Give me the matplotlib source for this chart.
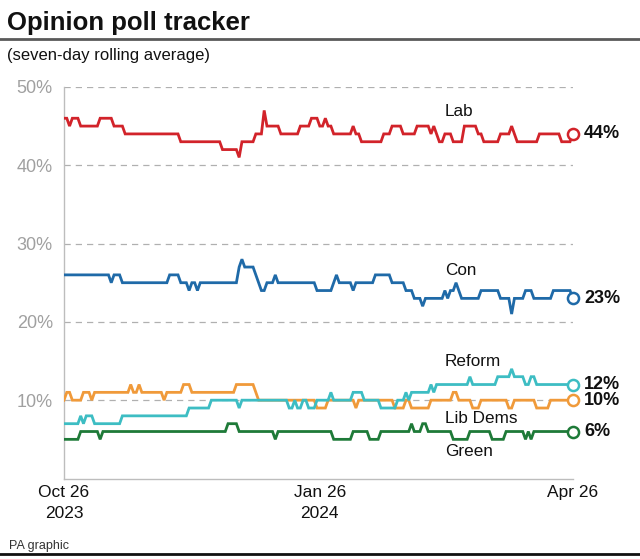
import matplotlib

matplotlib.use("Agg")
import matplotlib.pyplot as plt
import matplotlib.dates as mdates
import numpy as np
import pandas as pd

plt.rcParams["font.family"] = ["Liberation Sans", "DejaVu Sans"]

# daily seven-day rolling averages, stored as (value, number of days) runs
START = "2023-10-26"
lab_runs = [(46, 2), (45, 1), (46, 3), (45, 7), (46, 5), (45, 4), (44, 20), (43, 15),
            (42, 6), (41, 1), (43, 5), (44, 3), (47, 1), (45, 5), (44, 7), (45, 4),
            (46, 3), (45, 2), (46, 1), (45, 2), (44, 7), (45, 1), (44, 2), (43, 8),
            (44, 3), (45, 4), (44, 5), (45, 5), (44, 1), (45, 1), (44, 1), (43, 2),
            (44, 3), (43, 4), (45, 5), (44, 2), (43, 6), (44, 4), (45, 1), (44, 1),
            (43, 8), (44, 8), (43, 4), (44, 1)]
con_runs = [(26, 17), (25, 1), (26, 3), (25, 17), (26, 4), (25, 3), (24, 1), (25, 2),
            (24, 1), (25, 14), (27, 1), (28, 1), (27, 4), (26, 1), (25, 1), (24, 2),
            (25, 3), (26, 1), (25, 14), (24, 6), (25, 1), (26, 1), (25, 5), (24, 1),
            (25, 7), (26, 6), (25, 5), (24, 3), (23, 3), (22, 1), (23, 7), (24, 1),
            (23, 1), (24, 2), (25, 1), (24, 1), (23, 7), (24, 7), (23, 4), (21, 1),
            (23, 4), (24, 3), (23, 7), (24, 7), (23, 1)]
reform_runs = [(7, 6), (8, 1), (7, 1), (8, 3), (7, 10), (8, 24), (9, 8), (10, 10),
               (9, 1), (10, 17), (9, 2), (10, 1), (9, 2), (10, 2), (9, 3), (10, 5),
               (11, 1), (10, 7), (11, 4), (10, 6), (9, 6), (10, 3), (11, 1), (10, 1),
               (11, 7), (12, 1), (11, 1), (12, 12), (13, 1), (12, 9), (13, 5), (14, 1),
               (13, 4), (12, 2), (13, 2), (12, 14)]
libdem_runs = [(10, 1), (11, 2), (10, 4), (11, 3), (10, 1), (11, 13), (12, 1), (11, 2),
               (12, 1), (11, 8), (10, 1), (11, 6), (12, 3), (11, 16), (12, 7), (11, 1),
               (10, 21), (9, 4), (10, 10), (9, 1), (10, 13), (9, 4), (10, 2), (9, 7),
               (10, 8), (11, 2), (10, 5), (9, 3), (10, 10), (9, 2), (10, 8), (9, 5),
               (10, 9)]
green_runs = [(5, 6), (6, 7), (5, 1), (6, 45), (7, 4), (6, 13), (5, 1), (6, 20), (5, 7),
              (6, 6), (5, 4), (6, 11), (7, 1), (6, 3), (7, 2), (6, 9), (5, 6), (6, 8),
              (5, 5), (6, 7), (5, 1), (6, 1), (5, 1), (6, 15)]

parties = ["LibDem", "Reform", "Green", "Con", "Lab"]
runs = {"Lab": lab_runs, "Con": con_runs, "Reform": reform_runs,
        "LibDem": libdem_runs, "Green": green_runs}
colors = {"Lab": "#d2232a", "Con": "#1f6aa8", "Reform": "#3dbdc3",
          "LibDem": "#f09a3a", "Green": "#1e7a38"}
names = {"Lab": "Lab", "Con": "Con", "Reform": "Reform",
         "LibDem": "Lib Dems", "Green": "Green"}
name_y = {"Lab": 46.8, "Con": 26.6, "Reform": 14.9, "LibDem": 7.6, "Green": 3.4}
end_label_y = {"Lab": 44, "Con": 23, "Reform": 12, "LibDem": 10, "Green": 6}

xtick_dates = ["2023-10-26", "2024-01-26", "2024-04-26"]
xtick_labels = ["Oct 26\n2023", "Jan 26\n2024", "Apr 26"]
yticks = [10, 20, 30, 40, 50]


def expand(r):
    vals = np.array([v for v, _ in r], dtype=float)
    counts = np.array([n for _, n in r])
    return np.repeat(vals, counts)


fig = plt.figure(figsize=(6.4, 5.59), dpi=100)
ax = fig.add_axes([0.1, 0.144, 0.795, 0.7005])

for p in parties:
    y = expand(runs[p])
    x = pd.date_range(START, periods=len(y), freq="D")
    c = colors[p]
    ax.plot(x, y, color=c, lw=2.0, solid_joinstyle="miter", zorder=3)
    ax.plot(x[-1], y[-1], "o", ms=8, mfc="white", mec=c, mew=1.8,
            zorder=4, clip_on=False)
    ax.annotate(f"{int(y[-1])}%", (x[-1], end_label_y[p]), xytext=(8, 0),
                textcoords="offset points", va="center", ha="left",
                fontsize=13, fontweight="bold", color="#111111",
                annotation_clip=False)
    ax.text(pd.Timestamp("2024-03-11"), name_y[p], names[p], fontsize=12.3,
            color="#111111", ha="left", va="center")

ax.set_xlim(pd.Timestamp(xtick_dates[0]), pd.Timestamp(xtick_dates[-1]))
ax.set_ylim(0, 50)
ax.set_xticks([pd.Timestamp(d) for d in xtick_dates])
ax.set_xticklabels(xtick_labels, fontsize=12.5, color="#111111", linespacing=1.45)
ax.set_yticks(yticks)
ax.set_yticklabels([f"{v}%" for v in yticks], fontsize=13, color="#a0a0a0")
ax.tick_params(axis="both", length=0)
ax.tick_params(axis="y", pad=8)
ax.tick_params(axis="x", pad=5)
for v in yticks:
    ax.axhline(v, color="#b0b0b0", lw=0.9, ls=(0, (5, 4)), zorder=1)
for s in ["top", "right"]:
    ax.spines[s].set_visible(False)
ax.spines["left"].set_color("#bdbdbd")
ax.spines["bottom"].set_color("#bdbdbd")
ax.spines["left"].set_linewidth(1.0)
ax.spines["bottom"].set_linewidth(1.0)

fig.text(0.011, 0.946, "Opinion poll tracker", fontsize=18.5, fontweight="bold",
         color="#111111", va="baseline")
fig.add_artist(plt.Line2D([0, 1], [0.931, 0.931], color="#5a5a5a", lw=2.0,
                          transform=fig.transFigure))
fig.text(0.011, 0.893, "(seven-day rolling average)", fontsize=12,
         color="#111111", va="baseline")
fig.text(0.014, 0.018, "PA graphic", fontsize=9, color="#333333", va="baseline")
fig.add_artist(plt.Line2D([0, 1], [0.009, 0.009], color="#111111", lw=2.0,
                          transform=fig.transFigure))

fig.savefig("out.png", dpi=100)
